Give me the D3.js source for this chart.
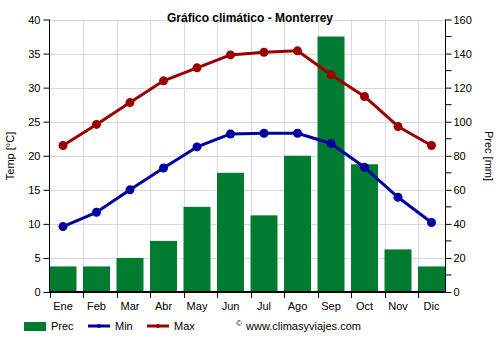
<!DOCTYPE html>
<html>
<head>
<meta charset="utf-8">
<script src="https://cdn.jsdelivr.net/npm/d3@7"></script>
<style>
  body { margin: 0; background: #fff; }
  svg { display: block; font-family: "Liberation Sans", Arial, sans-serif; }
</style>
</head>
<body>
<svg id="chart" width="500" height="350"></svg>
<script>
// Monthly climate data for Monterrey
const months = ["Ene", "Feb", "Mar", "Abr", "May", "Jun", "Jul", "Ago", "Sep", "Oct", "Nov", "Dic"];
const prec = [15, 15, 20, 30, 50, 70, 45, 80, 150, 75, 25, 15];
const tMin = [9.6, 11.7, 15.0, 18.2, 21.3, 23.2, 23.3, 23.3, 21.8, 18.3, 13.9, 10.2];
const tMax = [21.5, 24.6, 27.8, 31.0, 32.9, 34.8, 35.2, 35.4, 31.9, 28.7, 24.3, 21.5];
const tempTicks = [0, 5, 10, 15, 20, 25, 30, 35, 40];
const precTicks = [0, 20, 40, 60, 80, 100, 120, 140, 160];
const precMinorTicks = [10, 30, 50, 70, 90, 110, 130, 150];

const colPrec = "#007b30", colMin = "#0000a0", colMax = "#990000";
const plotL = 49.5, plotR = 445.5, plotT = 19.5, plotB = 292;

const svg = d3.select("#chart");

// Band scale slightly wider than the plot: the last band is cut by the right axis
const x = d3.scaleBand().domain(months).range([plotL, plotL + 12 * 33.5]).padding(0);
const barW = 27;
const cx = m => x(m) + barW / 2;

const yT = d3.scaleLinear().domain([0, 40]).range([plotB, plotT]);
const yP = d3.scaleLinear().domain([0, 160]).range([plotB, plotT]);

// Grid
const grid = svg.append("g").attr("stroke", "#d9d9d9").attr("stroke-width", 1);
tempTicks.filter(t => t > 0).forEach(t => {
  grid.append("line").attr("x1", plotL).attr("x2", plotR)
    .attr("y1", Math.round(yT(t)) + 0.5).attr("y2", Math.round(yT(t)) + 0.5);
});
months.slice(1).forEach(m => {
  const gx = Math.round(x(m)) + 0.5;
  grid.append("line").attr("x1", gx).attr("x2", gx).attr("y1", plotT).attr("y2", plotB);
});

// Precipitation bars
svg.append("g").selectAll("rect").data(months).join("rect")
  .attr("x", m => x(m))
  .attr("width", barW)
  .attr("y", (m, i) => yP(prec[i]))
  .attr("height", (m, i) => plotB - yP(prec[i]))
  .attr("fill", colPrec);

// Temperature lines
function series(vals, col) {
  const line = d3.line().x((d, i) => cx(months[i])).y(d => yT(d));
  svg.append("path").datum(vals).attr("d", line)
    .attr("fill", "none").attr("stroke", col).attr("stroke-width", 3).attr("stroke-linejoin", "round");
  svg.append("g").selectAll("circle").data(vals).join("circle")
    .attr("cx", (d, i) => cx(months[i])).attr("cy", d => yT(d)).attr("r", 4.5).attr("fill", col);
}
series(tMin, colMin);
series(tMax, colMax);

// Axes
const axisLeft = d3.axisLeft(yT).tickValues(tempTicks).tickSize(6).tickPadding(3);
const gL = svg.append("g").attr("transform", `translate(${plotL},0)`).call(axisLeft);

const axisRight = d3.axisRight(yP).tickValues(precTicks).tickSize(6).tickPadding(2);
const gR = svg.append("g").attr("transform", `translate(${plotR},0)`).call(axisRight);
gR.selectAll(".minor").data(precMinorTicks).join("line").attr("class", "minor")
  .attr("x1", 0).attr("x2", 6).attr("y1", d => yP(d)).attr("y2", d => yP(d)).attr("stroke", "#000");

const axisBottom = d3.axisBottom(x).tickSize(0).tickPadding(10);
const gB = svg.append("g").attr("transform", `translate(0,${plotB})`).call(axisBottom);
gB.selectAll(".tick text").attr("x", barW / 2 - 33.5 / 2);
gB.select(".domain").remove();
svg.append("line").attr("x1", plotL - 0.5).attr("x2", plotR).attr("y1", plotB).attr("y2", plotB)
  .attr("stroke", "#000").attr("stroke-width", 2);
svg.append("g").selectAll("line").data(months).join("line")
  .attr("x1", m => Math.round(x(m)) + 0.5).attr("x2", m => Math.round(x(m)) + 0.5)
  .attr("y1", plotB).attr("y2", plotB + 6).attr("stroke", "#000");

[gL, gR, gB].forEach(g => {
  g.selectAll("text").attr("font-size", 11).attr("fill", "#000")
    .attr("font-family", "'Liberation Sans', Arial, sans-serif");
  g.select(".domain").attr("stroke", "#000");
});
gL.select(".domain").attr("d", `M0,${plotT}V${plotB}`);
gR.select(".domain").attr("d", `M0,${plotT}V${plotB}`);

// Title and axis titles
svg.append("text").attr("x", 250).attr("y", 22).attr("text-anchor", "middle")
  .attr("font-size", 12).attr("font-weight", "bold").text("Gráfico climático - Monterrey");
svg.append("text").attr("transform", "translate(14,156) rotate(-90)").attr("text-anchor", "middle")
  .attr("font-size", 11).text("Temp [°C]");
svg.append("text").attr("transform", "translate(485,156) rotate(90)").attr("text-anchor", "middle")
  .attr("font-size", 11).text("Prec [mm]");

// Legend
const lg = svg.append("g").attr("font-size", 11);
lg.append("rect").attr("x", 24).attr("y", 322).attr("width", 22).attr("height", 9).attr("fill", colPrec);
lg.append("text").attr("x", 51).attr("y", 330).text("Prec");
[[88, colMin, "Min"], [147, colMax, "Max"]].forEach(([lx, c, t]) => {
  lg.append("line").attr("x1", lx).attr("x2", lx + 22).attr("y1", 326).attr("y2", 326)
    .attr("stroke", c).attr("stroke-width", 3);
  lg.append("circle").attr("cx", lx + 11).attr("cy", 326).attr("r", 2).attr("fill", c);
  lg.append("text").attr("x", lx + 27).attr("y", 330).text(t);
});
lg.append("text").attr("x", 236).attr("y", 326).attr("font-size", 8).text("©");
lg.append("text").attr("x", 246).attr("y", 330).text("www.climasyviajes.com");
</script>
</body>
</html>
